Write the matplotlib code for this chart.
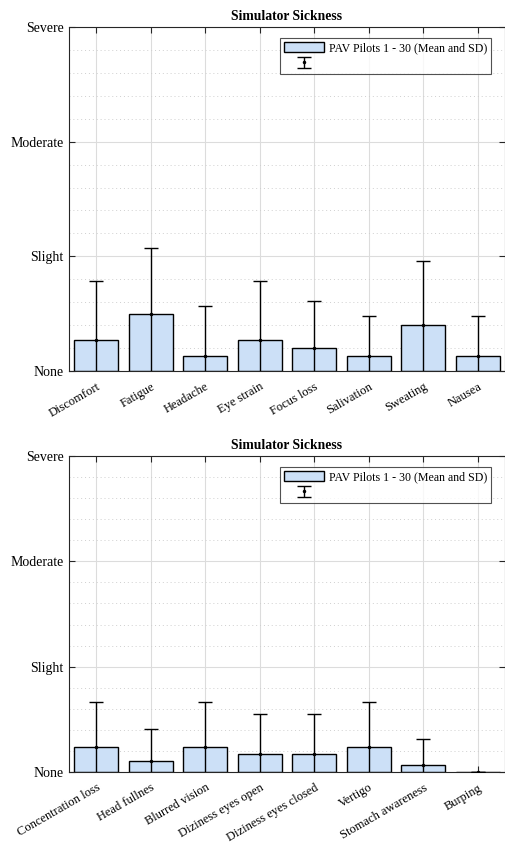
import numpy as np
import matplotlib
matplotlib.use("Agg")
import matplotlib.pyplot as plt
from matplotlib.ticker import MultipleLocator
from matplotlib.container import ErrorbarContainer
from matplotlib.legend_handler import HandlerErrorbar

plt.rcParams['font.family'] = ['Liberation Serif', 'DejaVu Serif']

# symptom ratings (0 = none ... 3 = severe), mean and SD over pilots 1-30
symptoms_a = ["Discomfort", "Fatigue", "Headache", "Eye strain",
              "Focus loss", "Salivation", "Sweating", "Nausea"]
mean_a = [0.267, 0.5, 0.133, 0.267, 0.2, 0.133, 0.4, 0.133]
sd_a = [0.52, 0.57, 0.435, 0.52, 0.41, 0.345, 0.56, 0.345]

symptoms_b = ["Concentration loss", "Head fullnes", "Blurred vision",
              "Diziness eyes open", "Diziness eyes closed", "Vertigo",
              "Stomach awareness", "Burping"]
mean_b = [0.233, 0.1, 0.233, 0.167, 0.167, 0.233, 0.067, 0.0]
sd_b = [0.43, 0.305, 0.43, 0.38, 0.38, 0.43, 0.25, 0.0]

levels = ["None", "Slight", "Moderate", "Severe"]
legend_label = "PAV Pilots 1 - 30 (Mean and SD)"

bar_color = (0.80, 0.88, 0.97)
axis_color = (0.15, 0.15, 0.15)

fig = plt.figure(figsize=(5.06, 8.44), dpi=100)
ax1 = fig.add_axes([0.1364, 0.5604, 0.8617, 0.4076])
ax2 = fig.add_axes([0.1364, 0.0853, 0.8617, 0.3744])


def draw(ax, names, means, sds, leg_y):
    x = np.arange(1, len(names) + 1)
    bars = ax.bar(x, means, width=0.8, color=bar_color, edgecolor="black",
                  linewidth=1.0, zorder=2, label=legend_label)
    err = ax.errorbar(x, means, yerr=sds, fmt=".", color="black",
                      markersize=3, elinewidth=1.0, capsize=5,
                      capthick=1.0, zorder=3)
    ax.set_xlim(0.5, len(names) + 0.5)
    ax.set_ylim(0, 3)
    ax.set_xticks(x)
    ax.set_xticklabels(names, rotation=30, ha="right",
                       rotation_mode="anchor", fontsize=9)
    ax.set_yticks([0, 1, 2, 3])
    ax.set_yticklabels(levels, fontsize=10)
    ax.yaxis.set_minor_locator(MultipleLocator(0.2))
    ax.tick_params(which="major", direction="in", length=4, width=0.8,
                   top=True, right=True, color=axis_color, pad=4)
    ax.tick_params(axis="x", which="major", pad=7)
    ax.tick_params(which="minor", length=0)
    ax.grid(True, which="major", color="#dcdcdc", linewidth=0.8, zorder=0)
    ax.grid(True, which="minor", axis="y", color="#cfcfcf",
            linestyle=(0, (1, 3)), linewidth=0.7, zorder=0)
    ax.set_axisbelow(True)
    for s in ax.spines.values():
        s.set_color(axis_color)
        s.set_linewidth(0.8)
    ax.set_title("Simulator Sickness", fontsize=9.8, fontweight="bold", pad=5)
    leg = ax.legend([bars, err], [legend_label, ""], loc="upper right",
                    bbox_to_anchor=(0.968, leg_y), borderaxespad=0,
                    fontsize=8.6, frameon=True, fancybox=False,
                    handlelength=3.35, handleheight=0.9, borderpad=0.35,
                    labelspacing=0.3, handletextpad=0.35,
                    handler_map={ErrorbarContainer: HandlerErrorbar(yerr_size=0.46)})
    leg.get_frame().set_edgecolor(axis_color)
    leg.get_frame().set_linewidth(0.8)


draw(ax1, symptoms_a, mean_a, sd_a, 0.968)
draw(ax2, symptoms_b, mean_b, sd_b, 0.965)

fig.savefig("out.png", dpi=100)
